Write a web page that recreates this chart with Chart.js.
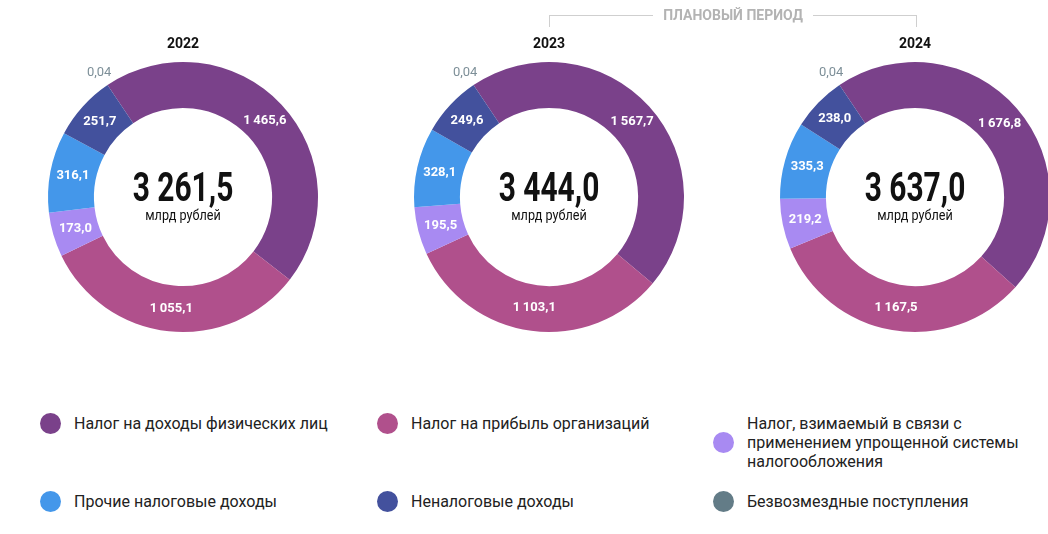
<!DOCTYPE html>
<html>
<head>
<meta charset="utf-8">
<script src="https://cdn.jsdelivr.net/npm/chart.js@4"></script>
<style>
  body { margin: 0; background: #fff; }
  #wrap { position: relative; width: 1048px; height: 534px; overflow: hidden; font-family: Roboto, sans-serif; }
  .box { position: absolute; width: 300px; height: 300px; }
  .year { position: absolute; top: 35px; width: 100px; text-align: center; font-weight: bold; font-size: 14px; color: #111; }
  .plan { position: absolute; top: 7px; left: 653px; width: 160px; text-align: center; font-weight: bold; font-size: 14px; color: #b3b3b3; }
  .line { position: absolute; background: #cfcfcf; }
  .leg { position: absolute; display: flex; align-items: center; font-size: 16px; color: #222; line-height: 19px; }
  .dot { width: 21px; height: 21px; border-radius: 50%; margin-right: 13px; flex: none; }
</style>
</head>
<body>
<div id="wrap"></div>
<script>
let years = ["2022", "2023", "2024"];
let categories = [
  "Налог на доходы физических лиц",
  "Налог на прибыль организаций",
  "Налог, взимаемый в связи с применением упрощенной системы налогообложения",
  "Прочие налоговые доходы",
  "Неналоговые доходы",
  "Безвозмездные поступления"
];
let values2022 = [1465.6, 1055.1, 173.0, 316.1, 251.7, 0.04];
let values2023 = [1567.7, 1103.1, 195.5, 328.1, 249.6, 0.04];
let values2024 = [1676.8, 1167.5, 219.2, 335.3, 238.0, 0.04];
let totals = ["3 261,5", "3 444,0", "3 637,0"];
let colors = ["#7a418a", "#b0508c", "#a88af2", "#4497ea", "#43519d", "#637c87"];

let allValues = [values2022, values2023, values2024];
let centersX = [183, 549, 915];
let wrap = document.getElementById("wrap");

function fmt(v) {
  let s = v < 1 ? v.toFixed(2) : v.toFixed(1);
  let parts = s.split(".");
  let int = parts[0].replace(/\B(?=(\d{3})+(?!\d))/g, "\u2009");
  return int + "," + parts[1];
}

// labels on slices and total in the middle
let donutText = {
  id: "donutText",
  afterDatasetsDraw(chart, args, opts) {
    let ctx = chart.ctx;
    let meta = chart.getDatasetMeta(0);
    let data = chart.data.datasets[0].data;
    ctx.save();
    ctx.textAlign = "center";
    ctx.textBaseline = "middle";
    meta.data.forEach((arc, i) => {
      let mid = (arc.startAngle + arc.endAngle) / 2;
      let r = (arc.innerRadius + arc.outerRadius) / 2;
      if (data[i] < 1) {
        r = arc.outerRadius + 15;
        ctx.fillStyle = "#7d8f98";
        ctx.font = "13px Roboto, sans-serif";
      } else {
        ctx.fillStyle = "#fff";
        ctx.font = "bold 13px Roboto, sans-serif";
      }
      ctx.fillText(fmt(data[i]), arc.x + Math.cos(mid) * r, arc.y + Math.sin(mid) * r);
    });
    let c = meta.data[0];
    ctx.fillStyle = "#111";
    ctx.save();
    ctx.translate(c.x, c.y - 6);
    ctx.scale(0.73, 1);
    ctx.font = "bold 41px Roboto, sans-serif";
    ctx.fillText(opts.total, 0, 0);
    ctx.restore();
    ctx.save();
    ctx.translate(c.x, c.y + 19);
    ctx.scale(0.9, 1);
    ctx.font = "14px Roboto, sans-serif";
    ctx.fillText("млрд рублей", 0, 0);
    ctx.restore();
    ctx.restore();
  }
};

years.forEach((y, k) => {
  let box = document.createElement("div");
  box.className = "box";
  box.style.left = (centersX[k] - 150) + "px";
  box.style.top = "47px";
  let cv = document.createElement("canvas");
  box.appendChild(cv);
  wrap.appendChild(box);

  let t = document.createElement("div");
  t.className = "year";
  t.textContent = y;
  t.style.left = (centersX[k] - 50) + "px";
  wrap.appendChild(t);

  new Chart(cv, {
    type: "doughnut",
    data: {
      labels: categories,
      datasets: [{
        data: allValues[k],
        backgroundColor: colors,
        borderWidth: 0
      }]
    },
    options: {
      responsive: true,
      maintainAspectRatio: false,
      animation: false,
      cutout: "66%",
      rotation: -34,
      layout: { padding: 15 },
      plugins: {
        legend: { display: false },
        tooltip: { enabled: false },
        donutText: { total: totals[k] }
      }
    },
    plugins: [donutText]
  });
});

// header for the planning period
let plan = document.createElement("div");
plan.className = "plan";
plan.textContent = "ПЛАНОВЫЙ ПЕРИОД";
wrap.appendChild(plan);
[[549, 15, 104, 1], [813, 15, 104, 1], [549, 15, 1, 12], [916, 15, 1, 12]].forEach(l => {
  let d = document.createElement("div");
  d.className = "line";
  d.style.left = l[0] + "px";
  d.style.top = l[1] + "px";
  d.style.width = l[2] + "px";
  d.style.height = l[3] + "px";
  wrap.appendChild(d);
});

// legend
let legendX = [40, 377, 713];
let legendY = [423, 423, 442, 501, 501, 501];
let legendText = [
  "Налог на доходы физических лиц",
  "Налог на прибыль организаций",
  "Налог, взимаемый в связи с<br>применением упрощенной системы<br>налогообложения",
  "Прочие налоговые доходы",
  "Неналоговые доходы",
  "Безвозмездные поступления"
];
categories.forEach((c, i) => {
  let item = document.createElement("div");
  item.className = "leg";
  item.style.left = legendX[i % 3] + "px";
  item.innerHTML = '<span class="dot" style="background:' + colors[i] + '"></span><span>' + legendText[i] + '</span>';
  wrap.appendChild(item);
  item.style.top = (legendY[i] - item.offsetHeight / 2) + "px";
});
</script>
</body>
</html>
